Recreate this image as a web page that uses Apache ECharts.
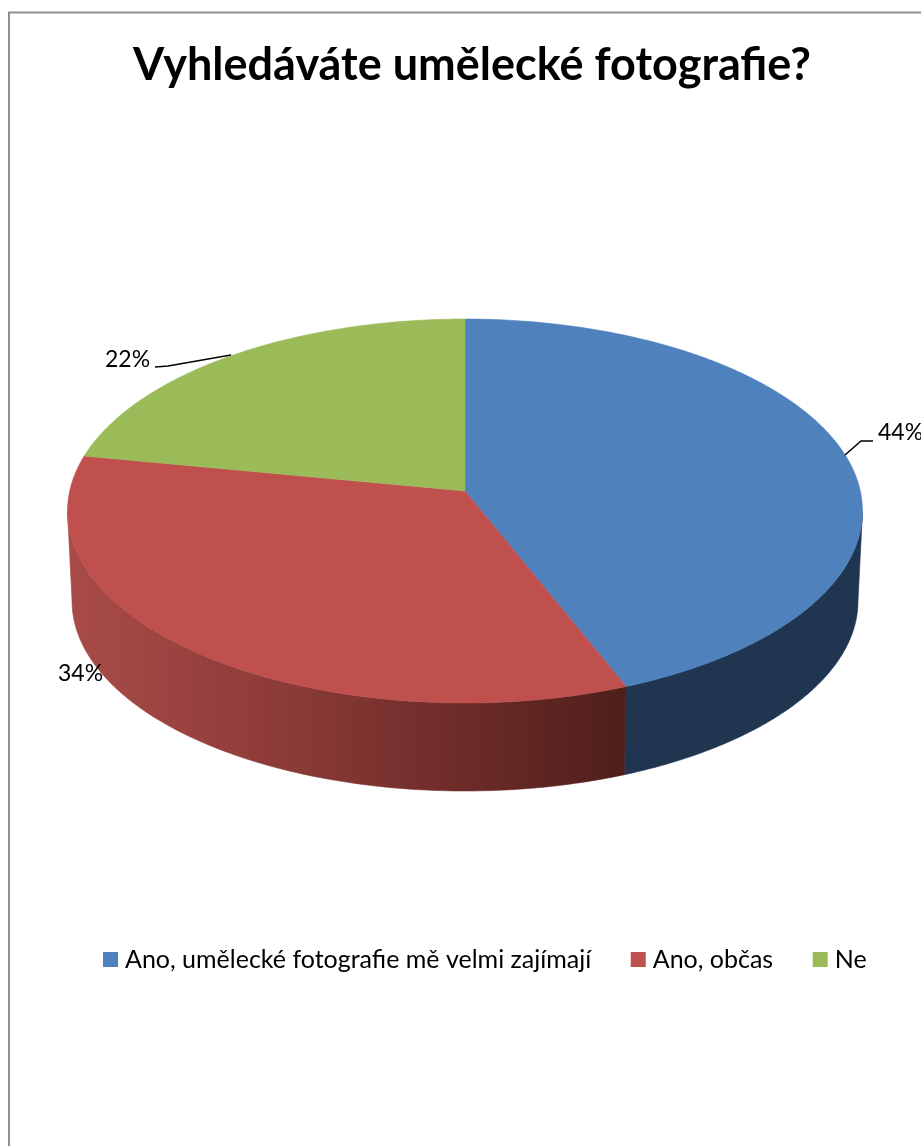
<!DOCTYPE html>
<html><head><meta charset="utf-8">
<style>html,body{margin:0;padding:0;background:#fff;overflow:hidden}#c{width:921px;height:1146px}</style>
<script src="https://cdn.jsdelivr.net/npm/echarts@6/dist/echarts.min.js"></script>
</head><body><div id="c"></div>
<script>
const titleText = 'Vyhledáváte umělecké fotografie?';
const categories = ['Ano, umělecké fotografie mě velmi zajímají', 'Ano, občas', 'Ne'];
const values = [44, 34, 22];
const colors = ['#4F81BD', '#C0504D', '#9BBB59'];

// drawing layout of the tilted disc
const TOP = {cx: 465, cy: 511, rx: 397.5, ry: 192};
const BOTTOM = {cx: 465, cy: 601, rx: 393, ry: 190};
const APEX_SHIFT = -20 / 192;   // perspective shift of the centre point
const FONT = 'Lato, Carlito, "Open Sans", sans-serif';
const WALL_FILL = [
  '#1F3550',
  {type: 'linear', x: 72, y: 0, x2: 625, y2: 0, global: true, colorStops: [
    {offset: 0, color: '#A84B48'}, {offset: 0.35, color: '#8F3C39'},
    {offset: 0.65, color: '#722E2B'}, {offset: 1, color: '#4F1F1B'}]},
  null
];
const LEADERS = [[[845, 455], [861, 441], [873, 441]], null, [[231, 355], [168, 366], [155, 367]]];
const LABEL_AT = [[878, 433], [58, 674], [105, 360]];

const total = values.reduce((a, b) => a + b, 0);

// true slice angle (clockwise from the back) -> normalised point on the unit ellipse
function project(theta) {
  const u = Math.sin(theta), v = -Math.cos(theta), a = APEX_SHIFT;
  const d = 1 + a * v;
  return [u * Math.sqrt(1 - a * a) / d, (v + a) / d];
}
const onEllipse = (E, p) => [E.cx + E.rx * p[0], E.cy + E.ry * p[1]];
const phiOf = p => { let f = Math.atan2(p[0], -p[1]); return f < 0 ? f + 2 * Math.PI : f; };

function renderSlice(params, api) {
  const i = params.seriesIndex;
  const v = api.value(0);
  const before = values.slice(0, i).reduce((a, b) => a + b, 0);
  const a0 = before / total * 2 * Math.PI;
  const a1 = (before + v) / total * 2 * Math.PI;
  const children = [];

  // visible outer wall: the part of the rim between right and left extremes, in front
  const p0 = project(a0), p1 = project(a1);
  const f0 = Math.max(i === 0 ? 0 : phiOf(p0), Math.PI / 2);
  const f1 = Math.min(phiOf(p1) || 2 * Math.PI, 3 * Math.PI / 2);
  if (f1 > f0 && WALL_FILL[i]) {
    const pts = [];
    const n = 120;
    for (let k = 0; k <= n; k++) {
      const f = f0 + (f1 - f0) * k / n;
      pts.push(onEllipse(TOP, [Math.sin(f), -Math.cos(f)]));
    }
    for (let k = n; k >= 0; k--) {
      const f = f0 + (f1 - f0) * k / n;
      pts.push(onEllipse(BOTTOM, [Math.sin(f), -Math.cos(f)]));
    }
    children.push({type: 'polygon', z2: 1, shape: {points: pts},
      style: {fill: WALL_FILL[i], stroke: WALL_FILL[i], lineWidth: 0.6}});
  }

  // top surface
  const top = [[TOP.cx, TOP.cy + APEX_SHIFT * TOP.ry]];
  const n = 160;
  for (let k = 0; k <= n; k++) {
    top.push(onEllipse(TOP, project(a0 + (a1 - a0) * k / n)));
  }
  children.push({type: 'polygon', z2: 2, shape: {points: top},
    style: {fill: colors[i], stroke: colors[i], lineWidth: 0.5}});

  // leader + label
  if (LEADERS[i]) {
    children.push({type: 'polyline', z2: 4, shape: {points: LEADERS[i]},
      style: {fill: null, stroke: '#000', lineWidth: 1.5}});
  }
  children.push({type: 'text', z2: 5, x: LABEL_AT[i][0], y: LABEL_AT[i][1],
    style: {text: v + '%', fill: '#000', fontFamily: FONT, fontSize: 23, align: 'left', verticalAlign: 'middle'}});
  return {type: 'group', children};
}

const chart = echarts.init(document.getElementById('c'), null, {renderer: 'canvas'});
chart.setOption({
  animation: false,
  backgroundColor: '#fff',
  title: {text: titleText, left: 128, top: 38,
    textStyle: {fontFamily: FONT, fontWeight: 'bold', fontSize: 45, color: '#000'}},
  legend: {
    data: categories, left: 98, top: 942, itemGap: 39.5, itemWidth: 15, itemHeight: 15,
    icon: 'rect', selectedMode: false,
    textStyle: {fontFamily: FONT, fontSize: 25, color: '#000', padding: [0, 0, 0, 2]}
  },
  graphic: [{type: 'rect', z: -1, silent: true, shape: {x: 9, y: 12.5, width: 1100, height: 1300},
    style: {fill: null, stroke: '#8E8E8E', lineWidth: 2}}],
  series: categories.map((name, i) => ({
    type: 'custom', name, coordinateSystem: 'none', silent: true,
    itemStyle: {color: colors[i]},
    renderItem: renderSlice,
    data: [[values[i]]]
  }))
});
</script></body></html>
